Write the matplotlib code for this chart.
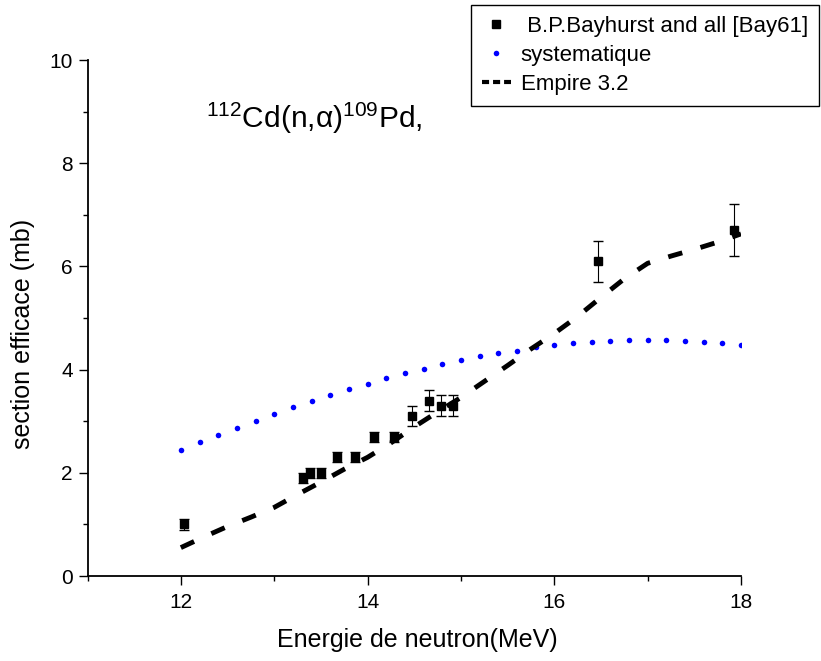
import matplotlib
matplotlib.use("Agg")
import matplotlib.pyplot as plt
from matplotlib.ticker import MultipleLocator

plt.rcParams['font.family'] = ['Liberation Sans', 'DejaVu Sans']
plt.rcParams['mathtext.fontset'] = 'custom'
plt.rcParams['mathtext.rm'] = 'Liberation Sans'
plt.rcParams['mathtext.it'] = 'Liberation Sans:italic'

# Experimental data (B.P.Bayhurst et al. [Bay61])
exp_energy = [12.03, 13.31, 13.38, 13.50, 13.67, 13.86, 14.07, 14.28,
              14.48, 14.66, 14.79, 14.91, 16.47, 17.92]
exp_xs = [1.0, 1.9, 2.0, 2.0, 2.3, 2.3, 2.7, 2.7,
          3.1, 3.4, 3.3, 3.3, 6.1, 6.7]
exp_err = [0.1, 0.1, 0.1, 0.1, 0.1, 0.1, 0.1, 0.1,
           0.2, 0.2, 0.2, 0.2, 0.4, 0.5]

# Systematics
sys_energy = [12.0, 12.2, 12.4, 12.6, 12.8, 13.0, 13.2, 13.4, 13.6, 13.8,
              14.0, 14.2, 14.4, 14.6, 14.8, 15.0, 15.2, 15.4, 15.6, 15.8,
              16.0, 16.2, 16.4, 16.6, 16.8, 17.0, 17.2, 17.4, 17.6, 17.8, 18.0]
sys_xs = [2.45, 2.59, 2.73, 2.87, 3.01, 3.14, 3.27, 3.39, 3.50, 3.62,
          3.73, 3.83, 3.93, 4.02, 4.10, 4.18, 4.26, 4.32, 4.37, 4.43,
          4.48, 4.51, 4.53, 4.56, 4.57, 4.58, 4.57, 4.56, 4.54, 4.52, 4.48]

# Empire 3.2
emp_energy = [12.0, 12.25, 12.5, 12.75, 13.0, 13.25, 13.5, 13.75, 14.0,
              14.25, 14.5, 14.75, 15.0, 15.25, 15.5, 15.75, 16.0, 16.25,
              16.5, 16.75, 17.0, 17.25, 17.5, 17.75, 18.0]
emp_xs = [0.55, 0.76, 0.96, 1.14, 1.33, 1.58, 1.82, 2.07, 2.30,
          2.58, 2.89, 3.18, 3.46, 3.77, 4.08, 4.40, 4.70, 5.03,
          5.40, 5.76, 6.06, 6.20, 6.33, 6.47, 6.63]

labels = [' B.P.Bayhurst and all [Bay61]', 'systematique', 'Empire 3.2']
xticks = [12, 14, 16, 18]
yticks = [0, 2, 4, 6, 8, 10]

fig = plt.figure(figsize=(8.21, 6.61), dpi=100)
ax = fig.add_axes([87.5/821, 1-576/661, (741-87.5)/821, (576-60)/661])

eb = ax.errorbar(exp_energy, exp_xs, yerr=exp_err, fmt='s', color='black',
                 markersize=5.5, ecolor='black', elinewidth=0.8,
                 capsize=3.6, capthick=1.0, zorder=3)
dots, = ax.plot(sys_energy, sys_xs, linestyle='none', marker='o',
                markersize=4, color='#0000ff', markeredgewidth=0)
dash, = ax.plot(emp_energy, emp_xs, color='black', linewidth=3.5,
                linestyle=(0, (3.0, 3.9)))

ax.set_xlim(11, 18)
ax.set_ylim(0, 10)
ax.set_xticks(xticks)
ax.set_yticks(yticks)
ax.xaxis.set_minor_locator(MultipleLocator(1))
ax.yaxis.set_minor_locator(MultipleLocator(1))
ax.tick_params(which='major', direction='out', length=6.5, width=1.0,
               labelsize=15, pad=4)
ax.tick_params(axis='x', which='major', pad=6)
ax.tick_params(which='minor', direction='out', length=3.5, width=1.0)
for s in ['top', 'right']:
    ax.spines[s].set_visible(False)
for s in ['left', 'bottom']:
    ax.spines[s].set_linewidth(1.3)

ax.set_xlabel('Energie de neutron(MeV)', fontsize=18)
ax.set_ylabel('section efficace (mb)', fontsize=18)
ax.xaxis.set_label_coords(0.504, -0.10)
ax.yaxis.set_label_coords(-0.080, 0.469)

ax.text(12.27, 8.68, r'${}^{112}$Cd(n,α)${}^{109}$Pd,', fontsize=21.5,
        ha='left', va='baseline')

leg = fig.legend([eb[0], dots, dash], labels, loc='upper right',
                 bbox_to_anchor=(819/821, 1-5/661), fontsize=16,
                 frameon=True, fancybox=False, edgecolor='black',
                 framealpha=1, borderpad=0.5, handlelength=1.3,
                 handletextpad=0.45, labelspacing=0.35, borderaxespad=0)
leg.get_frame().set_linewidth(1.0)
leg.get_lines()[2].set_linewidth(3)
leg.get_lines()[2].set_dashes([1.7, 0.95])

fig.savefig('out.png', dpi=100)
